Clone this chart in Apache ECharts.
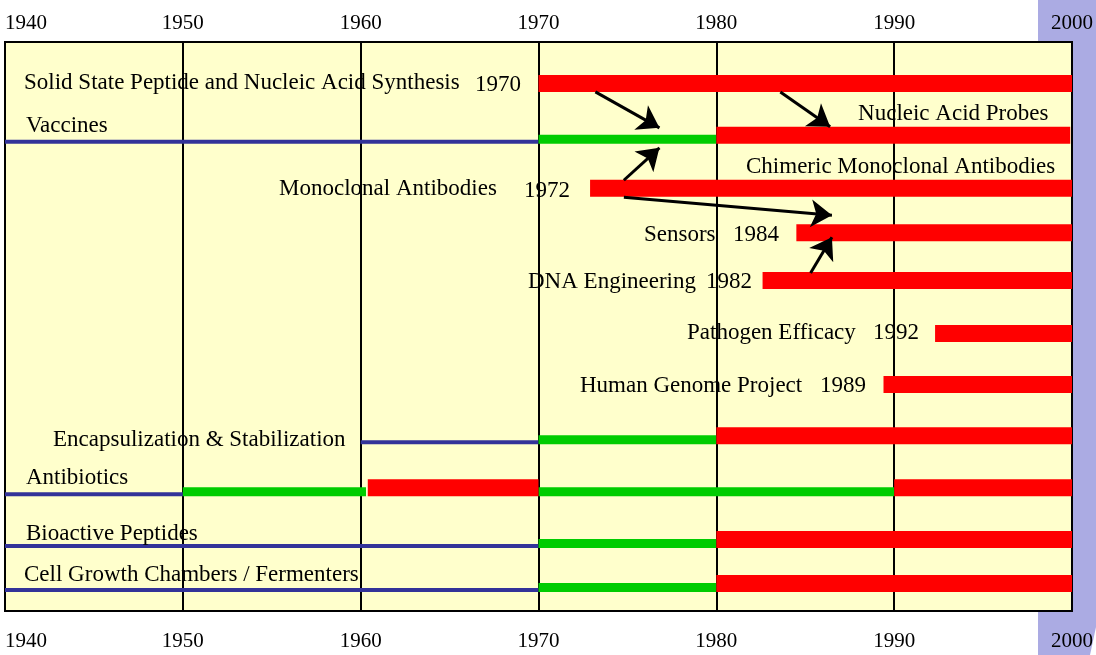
<!DOCTYPE html>
<html>
<head>
<meta charset="utf-8">
<script src="https://cdn.jsdelivr.net/npm/echarts@6/dist/echarts.min.js"></script>
<style>
  html, body { margin: 0; padding: 0; background: #fff; }
  #chart { width: 1096px; height: 655px; }
</style>
</head>
<body>
<div id="chart"></div>
<script>
// years on the timeline axis
const yearTicks = [1940, 1950, 1960, 1970, 1980, 1990, 2000]

// baseline of each technology row, in row units (0 = top of the plot)
const rowBase = [1.0, 2.04, 3.1, 3.99, 4.95, 6.01, 7.03, 8.06, 9.1, 10.14, 11.02]

// [startYear, endYear, rowIndex]
const establishedSegs = [
  [1940, 1970, 1], [1960, 1970, 7], [1940, 1950, 8], [1940, 1970, 9], [1940, 1970, 10]
]
const developingSegs = [
  [1970, 1980, 1], [1970, 1980, 7], [1950, 1960.3, 8], [1970, 1990, 8],
  [1970, 1980, 9], [1970, 1980, 10]
]
const emergingSegs = [
  [1970, 2000, 0], [1980, 1999.9, 1], [1972.9, 2000, 2], [1984.5, 2000, 3],
  [1982.6, 2000, 4], [1992.3, 2000, 5], [1989.4, 2000, 6], [1980, 2000, 7],
  [1960.4, 1970, 8], [1990, 2000, 8], [1980, 2000, 9], [1980, 2000, 10]
]

// annotation texts: [leftYear, rowPos, text]
const labels = [
  [1941.07, 0.82, 'Solid State Peptide and Nucleic Acid Synthesis'],
  [1966.43, 0.86, '1970'],
  [1941.18, 1.68, 'Vaccines'],
  [1987.97, 1.44, 'Nucleic Acid Probes'],
  [1981.67, 2.5, 'Chimeric Monoclonal Antibodies'],
  [1955.41, 2.95, 'Monoclonal Antibodies'],
  [1969.19, 2.99, '1972'],
  [1975.93, 3.87, 'Sensors'],
  [1980.94, 3.87, '1984'],
  [1969.41, 4.81, 'DNA Engineering'],
  [1979.42, 4.81, '1982'],
  [1978.35, 5.83, 'Pathogen Efficacy'],
  [1988.81, 5.83, '1992'],
  [1972.33, 6.89, 'Human Genome Project'],
  [1985.83, 6.89, '1989'],
  [1942.7, 7.98, 'Encapsulization & Stabilization'],
  [1941.18, 8.74, 'Antibiotics'],
  [1941.18, 9.86, 'Bioactive Peptides'],
  [1941.07, 10.68, 'Cell Growth Chambers / Fermenters']
]

// arrows: [fromYear, fromRow, toYear, toRow]
const arrows = [
  [1973.2, 1.0, 1976.8, 1.72],
  [1983.6, 1.0, 1986.4, 1.7],
  [1974.8, 2.77, 1976.8, 2.12],
  [1974.8, 3.11, 1986.5, 3.47],
  [1985.3, 4.63, 1986.5, 3.91]
]

const serif = '"Liberation Serif", "Times New Roman", serif'

function segData(segs) {
  return segs.map((s) => [s[0], s[1], rowBase[s[2]]])
}

function segSeries(name, segs, color, thick) {
  return {
    name,
    type: 'custom',
    renderItem: (params, api) => {
      const a = api.coord([api.value(0), api.value(2)])
      const b = api.coord([api.value(1), api.value(2)])
      return {
        type: 'rect',
        shape: { x: a[0], y: a[1] - thick, width: b[0] - a[0], height: thick },
        style: { fill: color }
      }
    },
    encode: { x: [0, 1], y: 2 },
    data: segData(segs),
    z: 3
  }
}

const chart = echarts.init(document.getElementById('chart'), null, { renderer: 'canvas' })

chart.setOption({
  animation: false,
  backgroundColor: '#fff',
  graphic: [
    {
      type: 'polygon',
      z: -100,
      silent: true,
      shape: { points: [[1038, 0], [1096, 0], [1096, 627], [1090, 655], [1038, 655]] },
      style: { fill: '#ababe3' }
    }
  ],
  grid: {
    left: 5, right: 24, top: 42, bottom: 44,
    show: true,
    backgroundColor: '#ffffcc',
    borderColor: '#000',
    borderWidth: 2
  },
  xAxis: [
    {
      type: 'value', position: 'top', min: 1940, max: 2000, interval: 10,
      axisLine: { show: false }, axisTick: { show: false },
      axisLabel: {
        color: '#000', fontFamily: serif, fontSize: 21, margin: 8,
        alignMinLabel: 'left', alignMaxLabel: 'center',
        formatter: (v) => (yearTicks.includes(v) ? String(v) : '')
      },
      splitLine: { show: true, lineStyle: { color: '#000', width: 2 } }
    },
    {
      type: 'value', position: 'bottom', min: 1940, max: 2000, interval: 10,
      axisLine: { show: false }, axisTick: { show: false },
      axisLabel: {
        color: '#000', fontFamily: serif, fontSize: 21, margin: 20,
        alignMinLabel: 'left', alignMaxLabel: 'center',
        formatter: (v) => (yearTicks.includes(v) ? String(v) : '')
      },
      splitLine: { show: false }
    }
  ],
  yAxis: { type: 'value', inverse: true, min: 0, max: 11.4, show: false },
  series: [
    segSeries('established', establishedSegs, '#333399', 4),
    segSeries('developing', developingSegs, '#00cc00', 9),
    segSeries('emerging', emergingSegs, '#ff0000', 17),
    {
      name: 'labels',
      type: 'custom',
      renderItem: (params, api) => {
        const p = api.coord([api.value(0), api.value(1)])
        return {
          type: 'text',
          x: p[0],
          y: p[1],
          style: {
            text: labels[params.dataIndex][2],
            fill: '#000',
            font: '23px ' + serif,
            align: 'left',
            verticalAlign: 'middle'
          }
        }
      },
      data: labels.map((l) => [l[0], l[1]]),
      z: 5
    },
    {
      name: 'arrows',
      type: 'lines',
      coordinateSystem: 'cartesian2d',
      symbol: ['none', 'arrow'],
      symbolSize: 21,
      lineStyle: { color: '#000', width: 3, opacity: 1 },
      data: arrows.map((a) => ({ coords: [[a[0], a[1]], [a[2], a[3]]] })),
      z: 6
    }
  ]
})
</script>
</body>
</html>
